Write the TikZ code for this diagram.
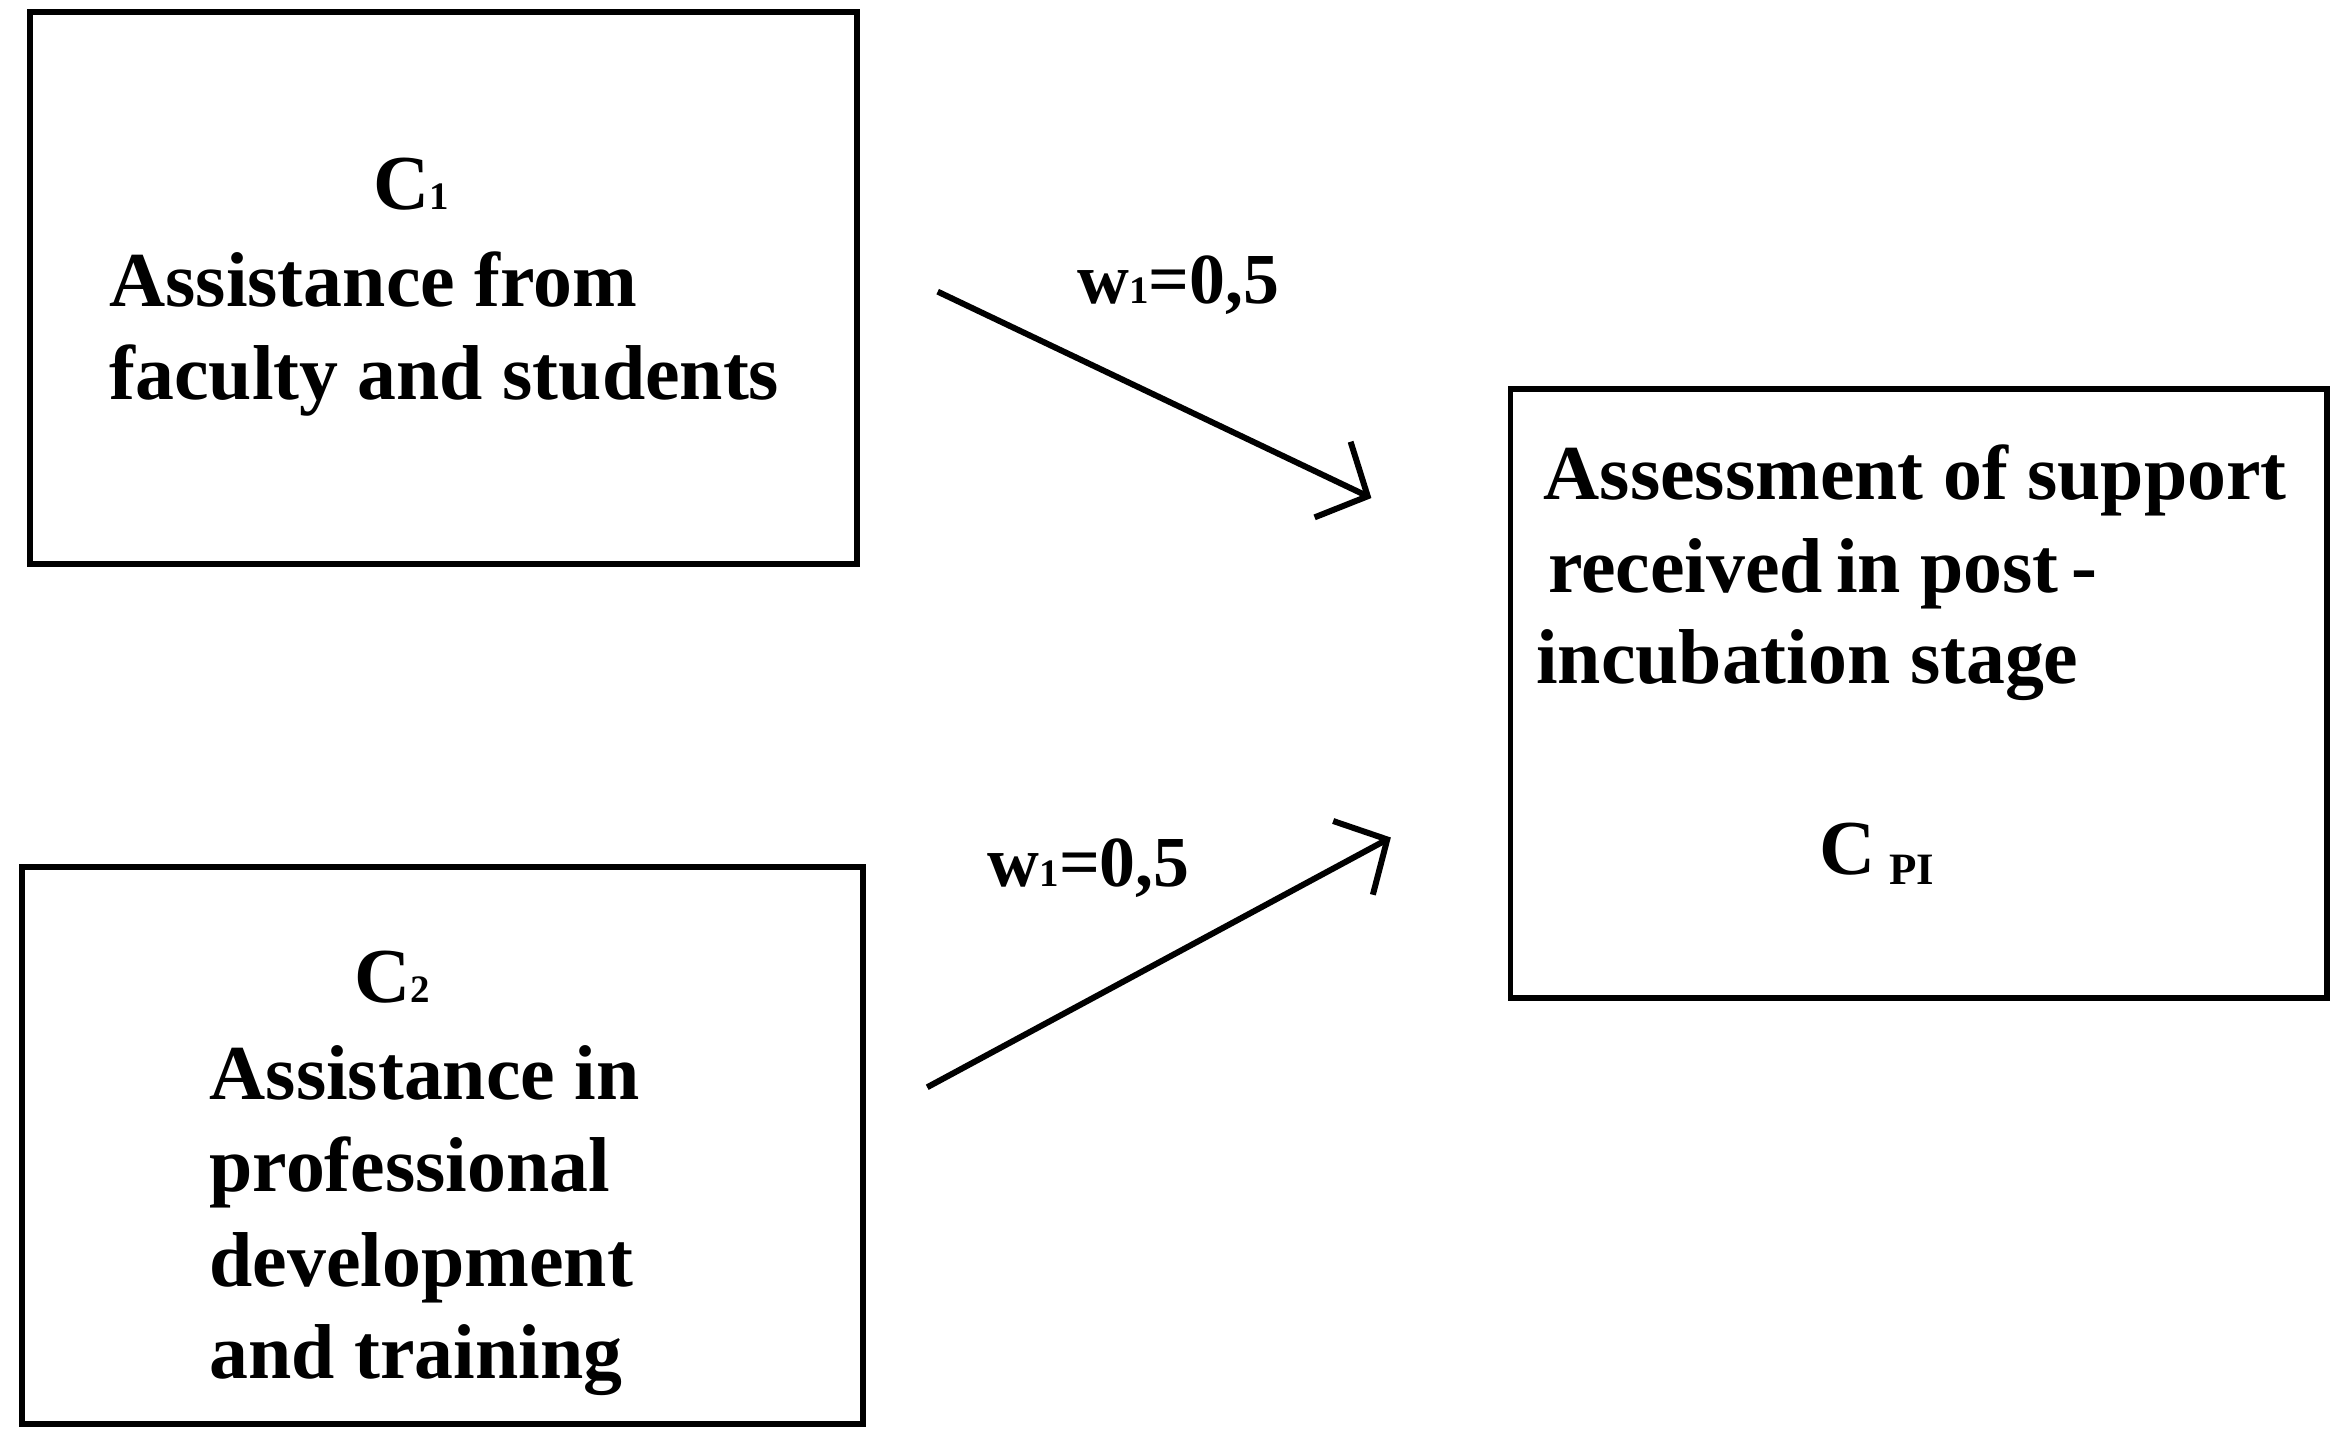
\documentclass[tikz,border=0pt]{standalone}
\usepackage{fontspec}
\setmainfont{Liberation Serif}
\usetikzlibrary{arrows.meta}
\newcommand{\smallsub}[1]{{\fontsize{26}{26}\selectfont #1}}
\begin{document}
\begin{tikzpicture}[x=1pt,y=-1pt,
  box/.style={draw,line width=4pt},
  t/.style={anchor=base west,inner sep=0pt,font=\fontsize{52}{60}\selectfont\bfseries},
  lab/.style={anchor=base,inner sep=0pt,font=\fontsize{48}{52}\selectfont\bfseries},
  arr/.style={line width=4pt,-{Straight Barb[length=26pt,width=56pt,line width=4pt]}}]
\useasboundingbox (0,0) rectangle (1564,964);
\draw[box] (20,8) rectangle (573,377);
\draw[box] (15,580) rectangle (577,952);
\draw[box] (1010,260) rectangle (1556,667);
\node[t,anchor=base] (c1) at (275,140) {C\smallsub{1}};
\node[t] (a1) at (73,205) {Assistance from};
\node[t] (a2) at (73,267) {faculty and students};
\node[t,anchor=base] (c2) at (262,670) {C\smallsub{2}};
\node[t] (b1) at (140,735) {Assistance in};
\node[t] (b2) at (140,797) {professional};
\node[t] (b3) at (140,860) {development};
\node[t] (b4) at (140,922) {and training};
\node[t] (d1) at (1032,334) {Assessment of support};
\node[t] (d2) at (1035,396) {received\,in post\,-};
\node[t] (d3) at (1027,457) {incubation stage};
\node[t,anchor=base] (cp) at (1255,585) {C\,\raisebox{-0.12em}{\fontsize{30}{30}\selectfont PI}};
\coordinate (s1) at (627,195); \coordinate (e1) at (917,333);
\coordinate (s2) at (620,727); \coordinate (e2) at (930,560);
\draw[arr] (s1) -- (e1);
\draw[arr] (s2) -- (e2);
\node[lab] (w1) at (788,203) {w\smallsub{1}=0,5};
\node[lab] (w2) at (728,593) {w\smallsub{1}=0,5};
\end{tikzpicture}
\end{document}
